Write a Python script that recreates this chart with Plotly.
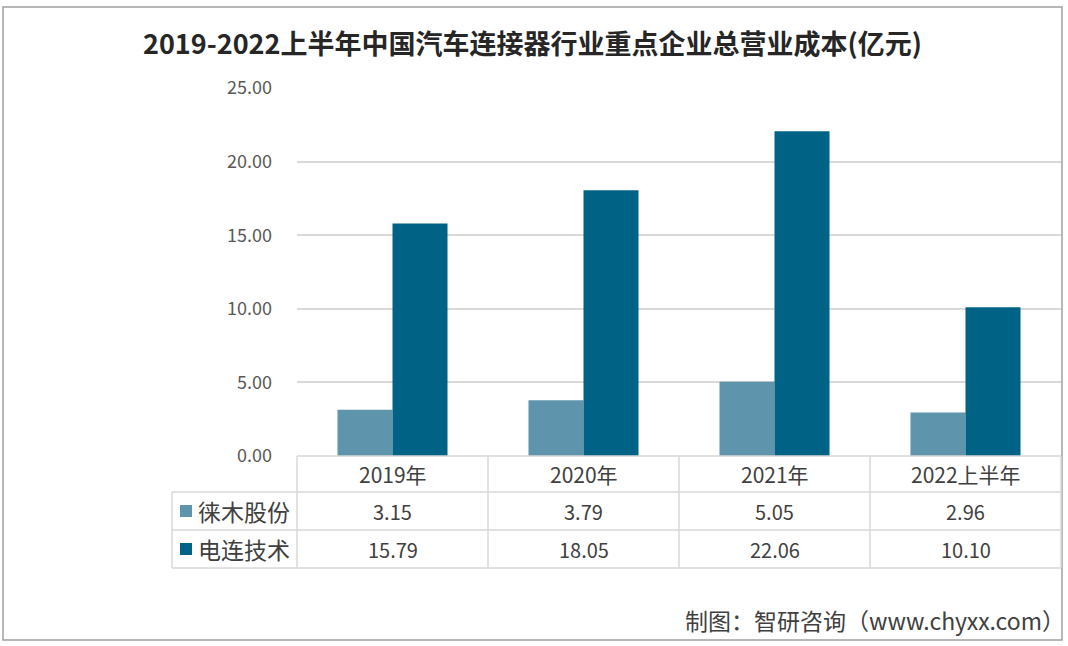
import plotly.graph_objects as go

categories = ["2019年", "2020年", "2021年", "2022上半年"]
series_names = ["徕木股份", "电连技术"]
laimu = [3.15, 3.79, 5.05, 2.96]
dianlian = [15.79, 18.05, 22.06, 10.10]
y_ticks = [0, 5, 10, 15, 20, 25]
colors = ["#5E94AC", "#006385"]
title = "2019-2022上半年中国汽车连接器行业重点企业总营业成本(亿元)"
source = "制图：智研咨询（www.chyxx.com）"

W, H = 1068, 646
PX0, PX1 = 297, 1061   # plot area x
PY0, PY1 = 88, 456     # plot area y (top, bottom)
TL = 172               # table left
ROWS = [456, 492, 530, 568]
FONT = "Noto Sans CJK SC"

def px(x):
    return x / W

def py(y):
    return 1 - y / H

fig = go.Figure()
for name, vals, c in zip(series_names, [laimu, dianlian], colors):
    fig.add_trace(go.Bar(x=categories, y=vals, name=name, marker_color=c,
                         marker_line_width=0, showlegend=False))

shapes = []
line = dict(color="#D9D9D9", width=1.5)
# outer border
shapes.append(dict(type="rect", xref="paper", yref="paper",
                   x0=px(3), x1=px(1062), y0=py(640), y1=py(7),
                   line=dict(color="#A0A0A0", width=1.5)))
# table horizontal lines
shapes.append(dict(type="line", xref="paper", yref="paper", x0=px(PX0), x1=px(PX1),
                   y0=py(ROWS[0]), y1=py(ROWS[0]), line=line))
for r in ROWS[1:]:
    shapes.append(dict(type="line", xref="paper", yref="paper", x0=px(TL), x1=px(PX1),
                       y0=py(r), y1=py(r), line=line))
# vertical lines
cw = (PX1 - PX0) / len(categories)
for i in range(len(categories) + 1):
    x = PX0 + i * cw
    shapes.append(dict(type="line", xref="paper", yref="paper", x0=px(x), x1=px(x),
                       y0=py(ROWS[0]), y1=py(ROWS[-1]), line=line))
shapes.append(dict(type="line", xref="paper", yref="paper", x0=px(TL), x1=px(TL),
                   y0=py(ROWS[1]), y1=py(ROWS[-1]), line=line))
# legend squares
for k, c in enumerate(colors):
    yc = (ROWS[k + 1] + ROWS[k + 2]) / 2
    shapes.append(dict(type="rect", xref="paper", yref="paper",
                       x0=px(180), x1=px(192), y0=py(yc + 6), y1=py(yc - 6),
                       fillcolor=c, line=dict(width=0)))

ann = []
ann.append(dict(text="<b>" + title + "</b>", x=px(532), y=py(43), xref="paper", yref="paper",
                showarrow=False, font=dict(family=FONT, size=27, color="#262626"),
                xanchor="center", yanchor="middle"))
for i, cat in enumerate(categories):
    xc = PX0 + (i + 0.5) * cw
    ann.append(dict(text=cat, x=px(xc), y=py((ROWS[0] + ROWS[1]) / 2), xref="paper", yref="paper",
                    showarrow=False, font=dict(family=FONT, size=21, color="#404040"),
                    xanchor="center", yanchor="middle"))
    for k, vals in enumerate([laimu, dianlian]):
        ann.append(dict(text=f"{vals[i]:.2f}", x=px(xc), y=py((ROWS[k + 1] + ROWS[k + 2]) / 2),
                        xref="paper", yref="paper", showarrow=False,
                        font=dict(family=FONT, size=20, color="#404040"),
                        xanchor="center", yanchor="middle"))
for k, name in enumerate(series_names):
    ann.append(dict(text=name, x=px(196), y=py((ROWS[k + 1] + ROWS[k + 2]) / 2), xref="paper",
                    yref="paper", showarrow=False,
                    font=dict(family=FONT, size=23, color="#404040"),
                    xanchor="left", yanchor="middle"))
ann.append(dict(text=source, x=px(1067), y=py(620), xref="paper", yref="paper", showarrow=False,
                font=dict(family=FONT, size=23, color="#404040"), xanchor="right", yanchor="middle"))

fig.update_layout(
    width=W, height=H, margin=dict(l=0, r=0, t=0, b=0, pad=0, autoexpand=False),
    paper_bgcolor="white", plot_bgcolor="white",
    barmode="group", bargap=0.424, bargroupgap=0,
    xaxis=dict(domain=[px(PX0), px(PX1)], showticklabels=False, showgrid=False,
               zeroline=False, showline=False, ticks="", automargin=False),
    yaxis=dict(domain=[py(PY1), py(PY0)], range=[0, 25], tickvals=y_ticks,
               ticktext=[f"{v:.2f}" for v in y_ticks], showgrid=True, gridcolor="#D9D9D9",
               gridwidth=1.5, zeroline=False, showline=False, ticks="", ticklabelstandoff=24,
               automargin=False,
               tickfont=dict(family=FONT, size=18, color="#595959")),
    shapes=shapes, annotations=ann,
)

fig.write_html("out.html", config={"displayModeBar": False},
               post_script="document.body.style.margin='0';")
